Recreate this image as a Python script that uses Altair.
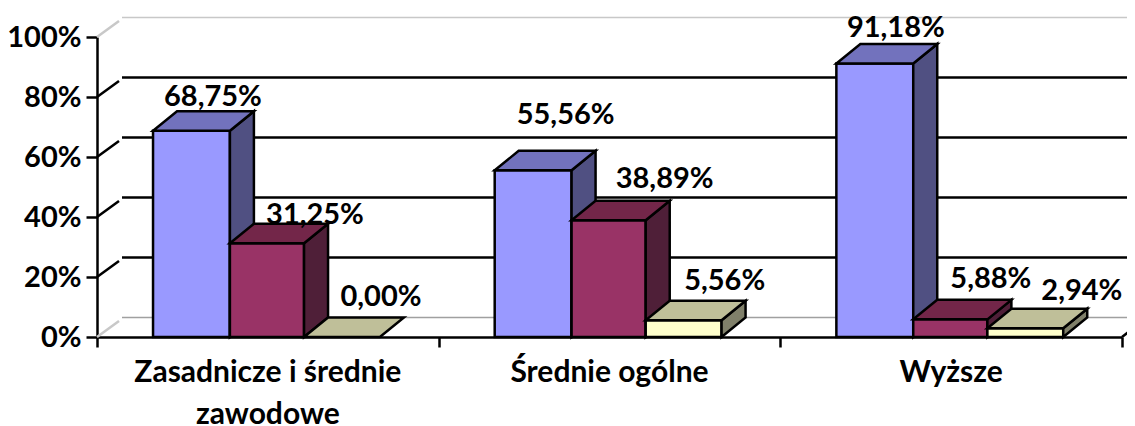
import altair as alt
import pandas as pd

CATEGORIES = ["Zasadnicze i średnie\nzawodowe", "Średnie ogólne", "Wyższe"]
SERIES_1 = [68.75, 55.56, 91.18]
SERIES_2 = [31.25, 38.89, 5.88]
SERIES_3 = [0.00, 5.56, 2.94]
LABELS_1 = ["68,75%", "55,56%", "91,18%"]
LABELS_2 = ["31,25%", "38,89%", "5,88%"]
LABELS_3 = ["0,00%", "5,56%", "2,94%"]
Y_TICKS = [0, 20, 40, 60, 80, 100]
X_TICKS = [0, 1, 2, 3]

# colours: front, side, top
COLORS = [
    ("#9999FF", "#505082", "#7272BD"),
    ("#993366", "#4F1F38", "#732649"),
    ("#FFFFCC", "#80806A", "#BFBF99"),
]

PX_X = 1 / 341.67          # one pixel in category units
PX_Y = 1 / 3.0             # one pixel in percent units
DX = 24 * PX_X             # 3D depth
DY = 19.5 * PX_Y
EDGES = [0.164, 0.389, 0.606, 0.828]

# label offsets from the middle of each front face (px right, px up)
NUDGE = [
    [(21.5, 34), (32.5, 55), (21, 35.5)],
    [(48, 28), (56, 41), (40.5, 40)],
    [(39, 40), (41, 39), (56.5, 37)],
]

FONT = "Lato"
SIZE_TICK = 29
SIZE_LABEL = 29
SIZE_CAT = 30

series = [SERIES_1, SERIES_2, SERIES_3]
labels = [LABELS_1, LABELS_2, LABELS_3]

faces, texts = [], []
pid = 0


def add(fill, points):
    global pid
    for x, lo, hi in points:
        faces.append(dict(poly=f"{pid:03d}", x=x, lo=lo, hi=hi, fill=fill))
    pid += 1


for c in range(3):
    for s in range(3):
        v = series[s][c]
        x0, x1 = c + EDGES[s], c + EDGES[s + 1]
        front, side, top = COLORS[s]
        if v > 0:
            add(front, [(x0, 0, v), (x1, 0, v)])
            add(side, [(x1, 0, v), (x1 + DX, DY, v + DY)])
        add(top, [(x0, v, v), (x0 + DX, v, v + DY), (x1, v, v + DY), (x1 + DX, v + DY, v + DY)])
        nx, ny = NUDGE[s][c]
        texts.append(dict(x=(x0 + x1) / 2 + nx * PX_X, y=v + ny * PX_Y, t=labels[s][c]))

faces_df = pd.DataFrame(faces)
texts_df = pd.DataFrame(texts)

GRID_X0 = 25 * PX_X
GRID_X1 = 3 + 13 * PX_X
grid_df = pd.DataFrame([
    dict(x=GRID_X0, x2=GRID_X1, y=t + DY,
         c="#C8C8C8" if t == 100 else ("#A0A0A0" if t == 0 else "#000000"),
         w=1.5 if t in (0, 100) else 2.5)
    for t in Y_TICKS
])
diag = []
for t in Y_TICKS:
    col = "#C8C8C8" if t in (0, 100) else "#000000"
    diag.append(dict(k=f"d{t}", x=0, y=t, c=col))
    diag.append(dict(k=f"d{t}", x=22 * PX_X, y=t + 16 * PX_Y, c=col))
diag.append(dict(k="r", x=3, y=0, c="#000000"))
diag.append(dict(k="r", x=3 + 13 * PX_X, y=10 * PX_Y, c="#000000"))
diag_df = pd.DataFrame(diag)

cat_df = pd.DataFrame({"x": [0.5, 1.5, 2.5], "y": [-12, -12, -12], "t": CATEGORIES})

xs = alt.Scale(domain=[0, 3], nice=False, zero=False)
ys = alt.Scale(domain=[0, 100], nice=False)
noaxis_x = alt.X("x:Q", scale=xs, title=None)
noaxis_y = alt.Y("y:Q", scale=ys, title=None)

axes = alt.Chart(pd.DataFrame({"x": [0, 3], "y": [0, 100]})).mark_point(opacity=0).encode(
    x=alt.X("x:Q", scale=xs, title=None, axis=alt.Axis(
        values=X_TICKS, labels=False, tickSize=10, tickWidth=2.5, domainWidth=2.5,
        tickColor="black", domainColor="black", grid=False)),
    y=alt.Y("y:Q", scale=ys, title=None, axis=alt.Axis(
        values=Y_TICKS, labelExpr="datum.value + '%'", tickSize=11, tickWidth=2.5,
        domainWidth=2.5, tickColor="black", domainColor="black", grid=False,
        labelFont=FONT, labelFontWeight="bold", labelFontSize=SIZE_TICK, labelColor="black",
        labelPadding=5)),
)

grid = alt.Chart(grid_df).mark_rule().encode(
    x=noaxis_x,
    x2="x2:Q",
    y=noaxis_y,
    color=alt.Color("c:N", scale=None),
    strokeWidth=alt.StrokeWidth("w:Q", scale=None),
)

diags = alt.Chart(diag_df).mark_line(strokeWidth=2.5).encode(
    x=noaxis_x,
    y=noaxis_y,
    detail="k:N",
    color=alt.Color("c:N", scale=None),
)

boxes = alt.Chart(faces_df).mark_area(
    stroke="black", strokeWidth=2.5, strokeJoin="miter", interpolate="linear"
).encode(
    x=noaxis_x,
    y=alt.Y("lo:Q", scale=ys, title=None, stack=None),
    y2="hi:Q",
    fill=alt.Fill("fill:N", scale=None),
    detail="poly:N",
)

value_text = alt.Chart(texts_df).mark_text(
    font=FONT, fontWeight="bold", fontSize=SIZE_LABEL, color="black", baseline="middle"
).encode(x=noaxis_x, y=noaxis_y, text="t:N")

cat_text = alt.Chart(cat_df).transform_calculate(
    lines="split(datum.t, '\\n')"
).mark_text(
    font=FONT, fontWeight="bold", fontSize=SIZE_CAT, color="black", baseline="middle", lineHeight=42
).encode(x=noaxis_x, y=noaxis_y, text="lines:N")

chart = alt.layer(axes, grid, diags, boxes, value_text, cat_text).properties(
    width=1025, height=300,
    autosize=alt.AutoSizeParams(type="none"),
    padding={"left": 89, "top": 29, "right": 5, "bottom": 89},
).configure_view(stroke=None)

chart.save("out.html", embed_options={"renderer": "svg", "actions": False})
